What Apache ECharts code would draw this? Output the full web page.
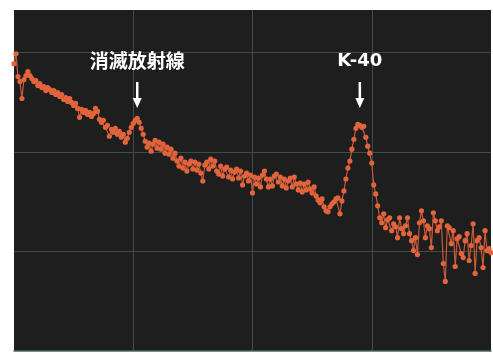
<!DOCTYPE html>
<html>
<head>
<meta charset="utf-8">
<script src="https://cdn.jsdelivr.net/npm/echarts@6/dist/echarts.min.js"></script>
<style>
  html, body { margin: 0; padding: 0; background: #ffffff; }
  #chart { width: 493px; height: 353px; }
</style>
</head>
<body>
<div id="chart"></div>
<script>
// Gamma-ray spectrum: counts per channel (arbitrary units)
const counts = [
  289, 299, 276, 271, 254, 273, 277, 281, 277, 274,
  271, 272, 267, 269, 265, 266, 262, 265, 263, 260,
  262, 258, 260, 256, 258, 253, 255, 251, 254, 250,
  247, 249, 244, 235, 243, 240, 242, 238, 240, 236,
  239, 244, 241, 233, 230, 232, 225, 227, 216, 223,
  220, 224, 218, 221, 215, 218, 210, 214, 220, 225,
  229, 232, 234, 230, 224, 218, 211, 205, 209, 201,
  208, 212, 204, 210, 203, 208, 199, 205, 198, 203,
  194, 199, 191, 186, 194, 184, 190, 181, 188, 191,
  183, 190, 182, 188, 179, 171, 187, 190, 183, 193,
  186, 191, 181, 178, 186, 176, 183, 185, 175, 182,
  173, 180, 183, 174, 181, 167, 176, 179, 171, 177,
  159, 175, 168, 174, 165, 177, 181, 173, 165, 173,
  166, 176, 178, 170, 175, 166, 173, 164, 171, 174,
  165, 175, 168, 162, 169, 160, 168, 162, 170, 163,
  159, 165, 156, 152, 149, 153, 145, 141, 140, 145,
  148, 150, 153, 154, 138, 151, 161, 173, 184, 191,
  203, 213, 224, 228, 227, 225, 226, 215, 206, 199,
  189, 167, 158, 146, 134, 129, 138, 124, 132, 134,
  121, 128, 125, 114, 134, 123, 118, 126, 134, 118,
  111, 101, 114, 97, 129, 141, 131, 114, 126, 123,
  104, 139, 131, 121, 125, 131, 88, 70, 126, 124,
  108, 121, 85, 113, 115, 98, 94, 111, 118, 91,
  106, 128, 78, 111, 114, 104, 84, 121, 101, 103,
  99
];
const channels = counts.map((_, i) => i);

// Annotated peaks
const peakNames = ['消滅放射線', 'K-40'];
const peakChannels = [62, 174];
const peakFonts = ['bold 19px "Noto Sans CJK JP"', 'bold 18px "DejaVu Sans"'];

const xMax = 240, xStep = 60;
const yMax = 343, yStep = 100;

const chart = echarts.init(document.getElementById('chart'), null, { renderer: 'canvas' });

const gridColor = '#3f4c4a';

chart.setOption({
  animation: false,
  backgroundColor: '#ffffff',
  grid: {
    left: 14, right: 2, top: 10, bottom: 2,
    show: true,
    backgroundColor: '#1e1e1e',
    borderWidth: 0
  },
  xAxis: {
    type: 'value',
    min: 0, max: xMax, interval: xStep,
    axisLine: { show: true, lineStyle: { color: '#4d6464', width: 1.5 } },
    axisTick: { show: false },
    axisLabel: { show: false },
    splitLine: { show: true, showMinLine: false, showMaxLine: false, lineStyle: { color: gridColor, width: 1 } }
  },
  yAxis: {
    type: 'value',
    min: 0, max: yMax, interval: yStep,
    axisLine: { show: false },
    axisTick: { show: false },
    axisLabel: { show: false },
    splitLine: { show: true, showMinLine: false, showMaxLine: false, lineStyle: { color: gridColor, width: 1 } }
  },
  series: [{
    type: 'line',
    data: channels.map((c, i) => [c, counts[i]]),
    showSymbol: true,
    showAllSymbol: true,
    symbol: 'circle',
    symbolSize: 5.2,
    itemStyle: { color: '#e2643c', borderWidth: 0 },
    lineStyle: { color: '#c85a3a', width: 1.2 },
    emphasis: { disabled: true }
  }]
});

// Peak annotations: label text with a downward arrow above each peak
const graphics = [];
peakChannels.forEach((ch, k) => {
  const px = chart.convertToPixel({ xAxisIndex: 0, yAxisIndex: 0 }, [ch, counts[ch]])[0];
  graphics.push({
    type: 'text',
    x: px, y: 61,
    style: {
      text: peakNames[k],
      font: peakFonts[k],
      fill: '#ffffff',
      align: 'center',
      verticalAlign: 'middle'
    }
  });
  graphics.push({
    type: 'line',
    shape: { x1: px, y1: 82, x2: px, y2: 100 },
    style: { stroke: '#ffffff', lineWidth: 2.5 }
  });
  graphics.push({
    type: 'polygon',
    shape: { points: [[px - 4.5, 98], [px + 4.5, 98], [px, 108]] },
    style: { fill: '#ffffff' }
  });
});
chart.setOption({ graphic: graphics });
</script>
</body>
</html>
